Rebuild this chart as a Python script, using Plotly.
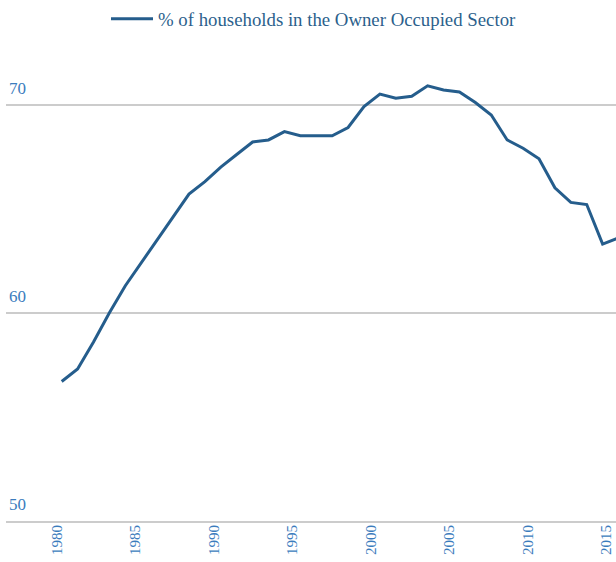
import plotly.graph_objects as go

years = list(range(1980, 2016))
owner_pct = [
    56.7, 57.3, 58.6, 60.0, 61.3, 62.4, 63.5, 64.6, 65.7, 66.3,
    67.0, 67.6, 68.2, 68.3, 68.7, 68.5, 68.5, 68.5, 68.9, 69.9,
    70.5, 70.3, 70.4, 70.9, 70.7, 70.6, 70.1, 69.5, 68.3, 67.9,
    67.4, 66.0, 65.3, 65.2, 63.3, 63.6,
]
tick_years = [1980, 1985, 1990, 1995, 2000, 2005, 2010, 2015]
y_ticks = [50, 60, 70]

LINE = "#255d8c"
TICK = "#3b7cbd"
GRID = "#cccccc"
FONT = "Liberation Serif"

fig = go.Figure()
fig.add_trace(go.Scatter(
    x=years, y=owner_pct, mode="lines",
    name="% of households in the Owner Occupied Sector",
    line=dict(color=LINE, width=3),
))
# tick-label axis (empty trace so the overlaying axis is drawn)
fig.add_trace(go.Scatter(x=[], y=[], xaxis="x2", showlegend=False, hoverinfo="skip"))

fig.update_layout(
    width=616, height=562,
    margin=dict(l=6, r=0, t=45, b=41),
    paper_bgcolor="white", plot_bgcolor="white",
    font=dict(family=FONT, color=TICK),
    showlegend=True,
    legend=dict(
        orientation="h", xref="container", yref="container",
        x=106 / 616, y=1 - 19 / 562, xanchor="left", yanchor="middle",
        itemwidth=42,
        font=dict(family=FONT, size=18.8, color="#2c5f8c"),
        bgcolor="rgba(0,0,0,0)",
    ),
    xaxis=dict(
        range=[1976.50, 2014.84], showticklabels=False, ticks="",
        showgrid=False, zeroline=False, showline=True,
        linecolor=GRID, linewidth=1.5,
    ),
    xaxis2=dict(
        overlaying="x", anchor="y", side="bottom",
        range=[1976.77, 2015.62], tickvals=tick_years,
        ticktext=[str(t) for t in tick_years], tickangle=-90,
        tickfont=dict(family=FONT, size=15, color=TICK),
        ticks="", showgrid=False, zeroline=False, showline=False,
    ),
    yaxis=dict(
        range=[50, 72.86], tickvals=y_ticks,
        ticklabelposition="inside", ticklabelshift=-17,
        tickfont=dict(family=FONT, size=17, color=TICK),
        ticks="", showgrid=True, gridcolor=GRID, gridwidth=1.5,
        zeroline=False, showline=False,
    ),
)

fig.write_html(
    "out.html",
    config={"displayModeBar": False},
    post_script="document.body.style.margin='0';document.body.style.padding='0';",
)
